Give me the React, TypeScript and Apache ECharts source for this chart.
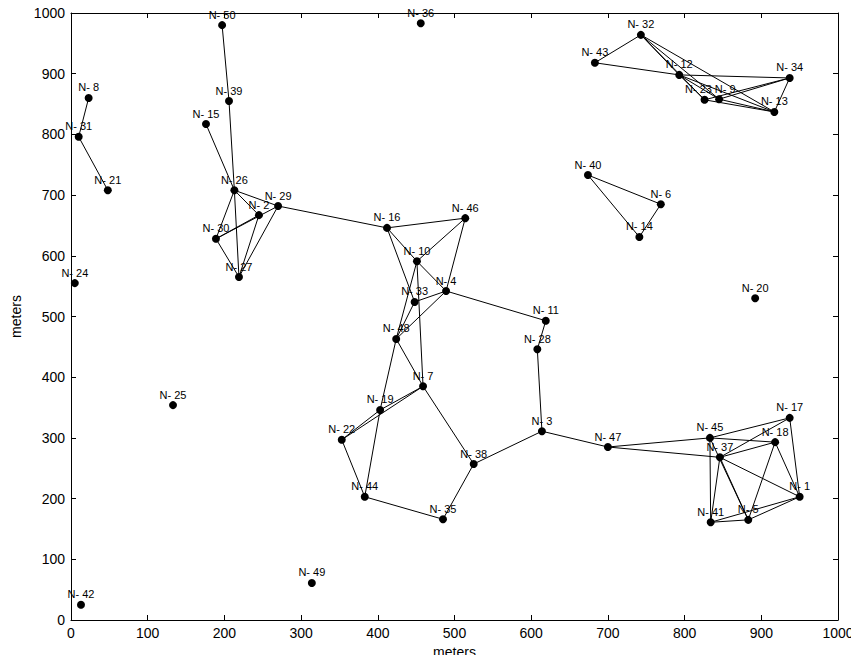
import React, { useEffect, useRef } from "react";
import * as echarts from "echarts";

const nodeIds = [
  1, 2, 3, 4, 5, 6, 7, 8, 9, 10, 11, 12, 13, 14, 15, 16, 17, 18, 19, 20, 21, 22, 23, 24, 25,
  26, 27, 28, 29, 30, 31, 32, 33, 34, 35, 36, 37, 38, 39, 40, 41, 42, 43, 44, 45, 46, 47, 48, 49, 50,
];
const nodeX = [
  950, 245, 614, 489, 883, 769, 459, 23, 845, 451, 619, 793, 917, 741, 176, 412, 937, 918, 403, 892, 48, 353, 826, 5, 133,
  213, 219, 608, 270, 189, 10, 743, 448, 937, 485, 456, 846, 525, 206, 674, 834, 13, 683, 383, 833, 514, 700, 424, 314, 197,
];
const nodeY = [
  203, 667, 311, 542, 165, 685, 385, 860, 858, 591, 493, 898, 837, 631, 817, 646, 333, 293, 346, 530, 708, 297, 857, 555, 354,
  708, 565, 446, 682, 628, 796, 964, 524, 893, 166, 983, 268, 257, 855, 733, 161, 25, 918, 203, 300, 662, 285, 463, 61, 980,
];
const edgeFrom = [
  8, 31, 50, 39, 15, 26, 26, 26, 26, 30, 30, 30, 27, 27, 29, 16, 16, 10, 10, 46, 16, 10, 10, 33, 33, 4, 4, 48, 48, 7, 7, 19, 19, 22,
  44, 35, 7, 38, 3, 28, 3, 47, 47, 45, 45, 45, 45, 37, 37, 37, 37, 37, 18, 18, 17, 41, 41, 5, 43, 43, 12, 32, 32, 32, 32, 12, 12, 12,
  23, 9, 23, 9, 34, 40, 40, 6,
];
const edgeTo = [
  31, 21, 39, 26, 26, 27, 30, 2, 29, 2, 29, 27, 2, 29, 16, 46, 10, 4, 46, 4, 33, 48, 7, 4, 48, 48, 11, 19, 7, 19, 22, 22, 44, 44,
  35, 38, 38, 3, 28, 11, 47, 45, 37, 17, 18, 41, 5, 17, 18, 1, 5, 41, 5, 1, 1, 5, 1, 1, 32, 12, 34, 12, 23, 9, 13, 23, 9, 13,
  34, 34, 13, 13, 13, 6, 14, 14,
];
const xTicks = [0, 100, 200, 300, 400, 500, 600, 700, 800, 900, 1000];
const yTicks = [0, 100, 200, 300, 400, 500, 600, 700, 800, 900, 1000];

const FONT = "'Liberation Sans', Arial, Helvetica, sans-serif";

export default function App() {
  const ref = useRef<HTMLDivElement>(null);
  useEffect(() => {
    if (!ref.current) return;
    const chart = echarts.init(ref.current, undefined, { renderer: "svg" });
    const label = (id: number) => "N- " + id;
    const nodes = nodeIds.map((id, i) => ({
      name: label(id),
      value: [nodeX[i], nodeY[i]],
      label: id === 23 ? { offset: [-6, 0] } : id === 9 ? { offset: [6, 0] } : undefined,
    }));
    const links = edgeFrom.map((f, i) => ({ source: label(f), target: label(edgeTo[i]) }));
    const axisCommon = {
      type: "value" as const,
      min: 0,
      max: 1000,
      interval: 100,
      splitLine: { show: false },
      axisLine: { show: true, onZero: false, lineStyle: { color: "#000", width: 1 } },
      axisTick: { show: true, inside: true, length: 5, lineStyle: { color: "#000" } },
    };
    chart.setOption({
      animation: false,
      backgroundColor: "#fff",
      grid: { left: 71, right: 21, top: 13, bottom: 43, containLabel: false, outerBoundsMode: "none" },
      xAxis: [
        {
          ...axisCommon,
          position: "bottom",
          name: "meters",
          nameLocation: "middle",
          nameGap: 24,
          nameTextStyle: { color: "#000", fontSize: 14, fontFamily: FONT },
          axisLabel: { color: "#000", fontSize: 14, fontFamily: FONT, margin: 6, formatter: (v: number) => (xTicks.includes(v) ? String(v) : "") },
        },
        { ...axisCommon, position: "top", axisLabel: { show: false } },
      ],
      yAxis: [
        {
          ...axisCommon,
          position: "left",
          name: "meters",
          nameLocation: "middle",
          nameGap: 46,
          nameTextStyle: { color: "#000", fontSize: 14, fontFamily: FONT },
          axisLabel: { color: "#000", fontSize: 14, fontFamily: FONT, margin: 6, formatter: (v: number) => (yTicks.includes(v) ? String(v) : "") },
        },
        { ...axisCommon, position: "right", axisLabel: { show: false } },
      ],
      series: [
        {
          type: "graph",
          coordinateSystem: "cartesian2d",
          xAxisIndex: 0,
          yAxisIndex: 0,
          symbol: "circle",
          symbolSize: 8,
          itemStyle: { color: "#000" },
          lineStyle: { color: "#000", width: 1, opacity: 1, curveness: 0 },
          label: {
            show: true,
            position: "top",
            distance: 1,
            formatter: "{b}",
            color: "#000",
            fontSize: 11,
            fontFamily: FONT,
          },
          emphasis: { disabled: true },
          edgeSymbol: ["none", "none"],
          data: nodes,
          links: links,
          z: 3,
        },
      ],
    });
    return () => chart.dispose();
  }, []);
  return <div ref={ref} style={{ width: 859, height: 663, margin: -8 }} />;
}
